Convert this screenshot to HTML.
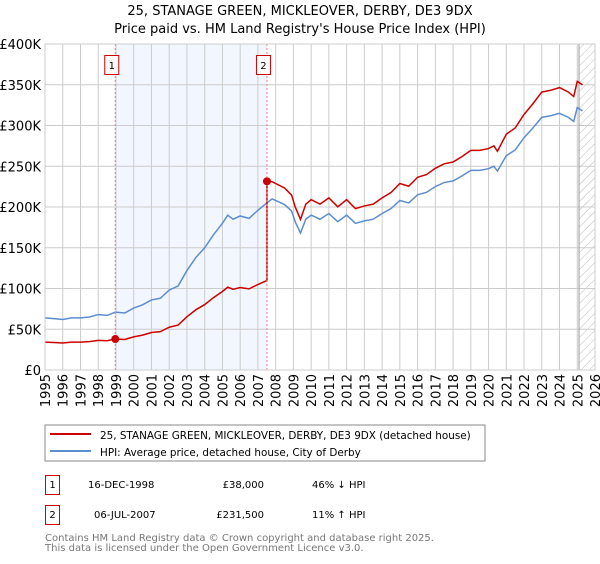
<!DOCTYPE html>
<html><head><meta charset="utf-8"><style>
body{margin:0;background:#fff;font-family:"DejaVu Sans","Liberation Sans",sans-serif;}
svg text{font-family:"DejaVu Sans","Liberation Sans",sans-serif;}
</style></head><body>
<svg id="c" width="600" height="560" xmlns="http://www.w3.org/2000/svg">
<defs><pattern id="hatch" width="6" height="6" patternUnits="userSpaceOnUse" patternTransform="rotate(45)"><line x1="0" y1="0" x2="0" y2="6" stroke="#bbb" stroke-width="1"/></pattern></defs>
<text x="300" y="15" text-anchor="middle" font-size="13" fill="#000">25, STANAGE GREEN, MICKLEOVER, DERBY, DE3 9DX</text>
<text x="300" y="33" text-anchor="middle" font-size="13" fill="#000">Price paid vs. HM Land Registry's House Price Index (HPI)</text>
<g id="plot"></g>
<rect x="45" y="425" width="440" height="36" fill="#fff" stroke="#888"/>
<line x1="50" y1="434" x2="91" y2="434" stroke="#cc0000" stroke-width="2"/>
<text x="100" y="439" font-size="10.4">25, STANAGE GREEN, MICKLEOVER, DERBY, DE3 9DX (detached house)</text>
<line x1="50" y1="451" x2="91" y2="451" stroke="#5b8dd0" stroke-width="2"/>
<text x="100" y="456" font-size="10.4">HPI: Average price, detached house, City of Derby</text>
<g font-size="10">
<rect x="45.5" y="475.5" width="14" height="19" fill="#fff" stroke="#cc0000"/><text x="52.5" y="488" text-anchor="middle">1</text>
<text x="88" y="488">16-DEC-1998</text><text x="264" y="488" text-anchor="end">£38,000</text><text x="312" y="488">46% ↓ HPI</text>
<rect x="45.5" y="505.5" width="14" height="19" fill="#fff" stroke="#cc0000"/><text x="52.5" y="518" text-anchor="middle">2</text>
<text x="94" y="518">06-JUL-2007</text><text x="264" y="518" text-anchor="end">£231,500</text><text x="312" y="518">11% ↑ HPI</text>
</g>
<text x="45" y="541" font-size="10" fill="#777">Contains HM Land Registry data © Crown copyright and database right 2025.</text>
<text x="45" y="551" font-size="10" fill="#777">This data is licensed under the Open Government Licence v3.0.</text>
</svg>
<script>
const hpiYears=[1995,1995.5,1996,1996.5,1997,1997.5,1998,1998.5,1998.96,1999.5,2000,2000.5,2001,2001.5,2002,2002.5,2003,2003.5,2004,2004.5,2005,2005.3,2005.6,2006,2006.5,2007,2007.5,2007.8,2008.5,2008.9,2009.1,2009.4,2009.7,2010,2010.5,2011,2011.5,2012,2012.5,2013,2013.5,2014,2014.5,2015,2015.5,2016,2016.5,2017,2017.5,2018,2018.5,2019,2019.5,2020,2020.3,2020.5,2021,2021.5,2022,2022.5,2023,2023.5,2024,2024.5,2024.8,2025,2025.3];
const hpiValues=[64,63,62,64,64,65,68,67,71,70,76,80,86,88,98,103,122,138,150,166,180,190,185,189,186,196,205,210,203,195,182,168,185,190,185,192,182,190,180,183,185,192,198,208,205,215,218,225,230,232,238,245,245,247,250,244,263,270,285,297,310,312,315,310,305,322,318];
const saleYears=[1998.96,2007.51];
const salePrices=[38000,231500];
const postSaleRatio=[1.10];
const yTicks=[0,50000,100000,150000,200000,250000,300000,350000,400000];
const yTickLabels=["£0","£50K","£100K","£150K","£200K","£250K","£300K","£350K","£400K"];
const xTickYears=[1995,1996,1997,1998,1999,2000,2001,2002,2003,2004,2005,2006,2007,2008,2009,2010,2011,2012,2013,2014,2015,2016,2017,2018,2019,2020,2021,2022,2023,2024,2025,2026];
const X0=45,X1=595,Y0=370,Y1=44;
const xs=y=>X0+(y-1995)/(2026-1995)*(X1-X0);
const ys=v=>Y0-v/400000*(Y0-Y1);
const NS="http://www.w3.org/2000/svg";
const g=document.getElementById('plot');
function mk(t,a){const e=document.createElementNS(NS,t);for(const k in a)e.setAttribute(k,a[k]);g.appendChild(e);return e;}
let e;
e=mk('rect',{x:xs(saleYears[0]),y:Y1,width:xs(saleYears[1])-xs(saleYears[0]),height:Y0-Y1,fill:'#f2f6fe'});


e=mk('rect',{x:xs(2025.1),y:Y1,width:X1-xs(2025.1),height:Y0-Y1,fill:'url(#hatch)'});


yTicks.forEach((v,i)=>{
 e=mk('line',{x1:X0,x2:X1,y1:ys(v),y2:ys(v),stroke:'#ccc','stroke-width':1});
 
 
 e=mk('text',{x:X0-4,y:ys(v)+5,'text-anchor':'end','font-size':13});
 e.textContent=yTickLabels[i];
 
 
});
xTickYears.forEach(yr=>{
 e=mk('line',{x1:xs(yr),x2:xs(yr),y1:Y1,y2:Y0,stroke:'#ccc','stroke-width':1});
 
 
 e=mk('text',{x:0,y:0,'text-anchor':'end','font-size':13,transform:`translate(${xs(yr)+5},${Y0+4}) rotate(-90)`});
 e.textContent=yr;
 
 
});
e=mk('line',{x1:xs(2025.1),x2:xs(2025.1),y1:Y1,y2:Y0,stroke:'#999','stroke-width':1});


const hpiAt=y=>{for(let i=1;i<hpiYears.length;i++){if(y<=hpiYears[i]){const t=(y-hpiYears[i-1])/(hpiYears[i]-hpiYears[i-1]);return hpiValues[i-1]+t*(hpiValues[i]-hpiValues[i-1]);}}return hpiValues[hpiValues.length-1];};
const r1=salePrices[0]/(hpiAt(saleYears[0])*1000), r2=postSaleRatio[0];
let bp=[],rp=[];
hpiYears.forEach((y,i)=>{bp.push(xs(y)+','+ys(hpiValues[i]*1000));});
hpiYears.forEach((y,i)=>{if(y<saleYears[1])rp.push(xs(y)+','+ys(hpiValues[i]*1000*r1));});
rp.push(xs(saleYears[1])+','+ys(hpiAt(saleYears[1])*1000*r1));
rp.push(xs(saleYears[1])+','+ys(salePrices[1]));
hpiYears.forEach((y,i)=>{if(y>saleYears[1])rp.push(xs(y)+','+ys(hpiValues[i]*1000*r2));});
e=mk('polyline',{points:bp.join(' '),fill:'none',stroke:'#5b8dd0','stroke-width':1.5});


e=mk('polyline',{points:rp.join(' '),fill:'none',stroke:'#cc0000','stroke-width':1.5});


saleYears.forEach((y,i)=>{
 e=mk('line',{x1:xs(y),x2:xs(y),y1:Y1,y2:Y0,stroke:'#f08080','stroke-width':1,'stroke-dasharray':'2,2'});
 
 
 e=mk('circle',{cx:xs(y),cy:ys(salePrices[i]),r:4,fill:'#cc0000'});
 
 
 e=mk('rect',{x:xs(y)-10.5,y:55.5,width:14,height:19,fill:'#fff',stroke:'#cc0000'});
 
 
 e=mk('text',{x:xs(y)-3.5,y:69,'text-anchor':'middle','font-size':10});
 e.textContent=String(i+1);
 
 
});
e=mk('rect',{x:X0,y:Y1,width:X1-X0,height:Y0-Y1,fill:'none',stroke:'#ccc'});


</script>
</body></html>
